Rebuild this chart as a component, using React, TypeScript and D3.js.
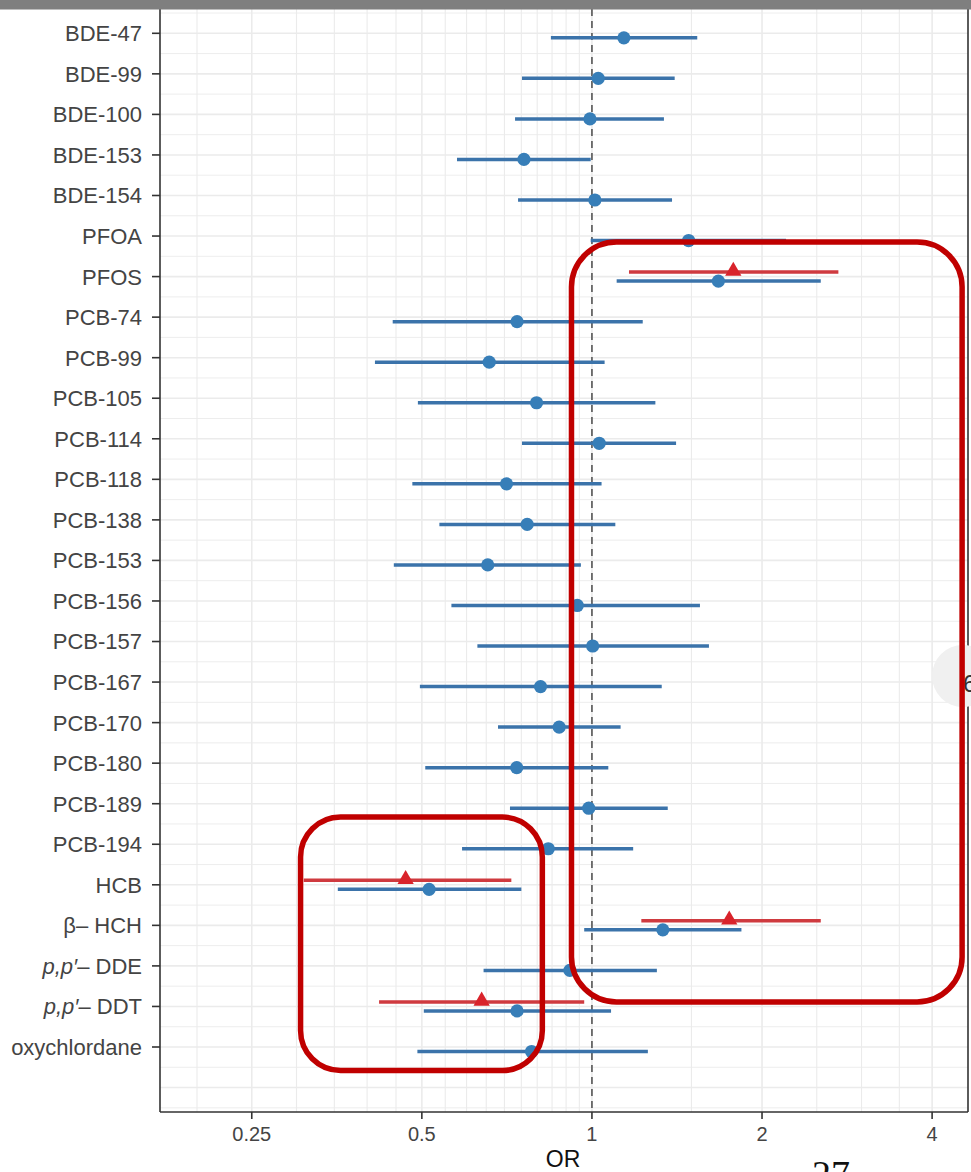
import React from "react";
import * as d3 from "d3";

// ---------- data ----------
const labels = [
  "BDE-47", "BDE-99", "BDE-100", "BDE-153", "BDE-154", "PFOA", "PFOS",
  "PCB-74", "PCB-99", "PCB-105", "PCB-114", "PCB-118", "PCB-138", "PCB-153",
  "PCB-156", "PCB-157", "PCB-167", "PCB-170", "PCB-180", "PCB-189", "PCB-194",
  "HCB", "β-HCH", "p,p'-DDE", "p,p'-DDT", "oxychlordane",
];
const blueLo = [0.846, 0.752, 0.731, 0.577, 0.740, 0.995, 1.106, 0.444, 0.413, 0.492, 0.752, 0.481, 0.537, 0.446, 0.564, 0.627, 0.496, 0.682, 0.507, 0.716, 0.589, 0.355, 0.969, 0.643, 0.504, 0.491];
const blueEst = [1.139, 1.026, 0.992, 0.758, 1.012, 1.483, 1.674, 0.737, 0.658, 0.798, 1.030, 0.706, 0.768, 0.654, 0.942, 1.003, 0.811, 0.875, 0.736, 0.987, 0.837, 0.515, 1.335, 0.914, 0.737, 0.782];
const blueHi = [1.536, 1.401, 1.341, 0.995, 1.386, 2.206, 2.541, 1.230, 1.053, 1.295, 1.409, 1.040, 1.100, 0.956, 1.553, 1.611, 1.329, 1.124, 1.069, 1.362, 1.183, 0.750, 1.839, 1.303, 1.081, 1.256];

const redLabels = ["PFOS", "HCB", "β-HCH", "p,p'-DDT"];
const redLo = [1.163, 0.309, 1.223, 0.420];
const redEst = [1.779, 0.468, 1.750, 0.638];
const redHi = [2.730, 0.720, 2.541, 0.969];

const xTicks = [0.25, 0.5, 1, 2, 4];
const xTickLabels = ["0.25", "0.5", "1", "2", "4"];
const xGrid = [0.2, 0.25, 0.3, 0.35, 0.4, 0.45, 0.5, 0.55, 0.6, 0.65, 0.7, 0.75, 0.8, 0.85, 0.9, 0.95, 1, 1.5, 2, 2.5, 3, 3.5, 4];

// annotation boxes (data coordinates: OR range, category range with step offsets)
const boxes = [
  { x0: 0.92, x1: 4.52, yFrom: "PFOS", yFromOff: -0.85, yTo: "p,p'-DDT", yToOff: -0.11, r: 45 },
  { x0: 0.305, x1: 0.817, yFrom: "PCB-194", yFromOff: -0.67, yTo: "oxychlordane", yToOff: 0.58, r: 40 },
];

// ---------- layout ----------
const W = 971;
const H = 1172;
const P = { left: 160, right: 968, top: 9, bottom: 1112 };

const BLUE = "#377EB8";
const BLUE_LINE = "#3b73aa";
const RED = "#d9232b";
const RED_LINE = "#cf3a3f";
const GRID = "#ebebeb";
const TEXT = "#444444";
const FONT = "'Liberation Sans', Arial, Helvetica, sans-serif";

function renderLabel(l: string) {
  if (l.startsWith("p,p'")) {
    const rest = l.split("-")[1];
    return (
      <>
        <tspan fontStyle="italic">p,p′</tspan>
        <tspan>{"– " + rest}</tspan>
      </>
    );
  }
  if (l === "β-HCH") return <tspan>{"β– HCH"}</tspan>;
  return l;
}

export default function App() {
  const x = d3.scaleLog().base(2).domain([0.172, 4.63]).range([P.left, P.right]);
  const y = d3.scalePoint<string>().domain(labels).range([33.3, 1047]);
  const step = y.step();
  const dBlue = 4.5;
  const dRed = -4.5;

  const hGrid: { y: number; major: boolean }[] = [];
  for (let k = -1; k <= 2 * labels.length + 2; k++) {
    const yy = (y(labels[0]) as number) + (k * step) / 2;
    if (yy > P.top && yy < P.bottom) hGrid.push({ y: yy, major: k % 2 === 0 });
  }

  const tri = d3.symbol().type(d3.symbolTriangle).size(115)() as string;

  return (
    <svg
      width={W}
      height={H}
      style={{ position: "absolute", left: 0, top: 0, background: "#fff" }}
      fontFamily={FONT}
    >
      <rect x={0} y={0} width={W} height={H} fill="#fff" />
      <rect x={P.left} y={P.top} width={P.right - P.left} height={P.bottom - P.top} fill="#fff" />

      {/* gridlines */}
      {hGrid.map((g, i) => (
        <line key={"h" + i} x1={P.left} x2={P.right} y1={g.y} y2={g.y} stroke={GRID} strokeWidth={g.major ? 1.6 : 0.9} />
      ))}
      {xGrid.map((v, i) => (
        <line key={"v" + i} x1={x(v)} x2={x(v)} y1={P.top} y2={P.bottom} stroke={GRID} strokeWidth={xTicks.includes(v) ? 1.6 : 1.1} />
      ))}

      {/* reference line at OR = 1 */}
      <line x1={x(1)} x2={x(1)} y1={P.top} y2={P.bottom} stroke="#555" strokeWidth={1.6} strokeDasharray="7,5" />

      {/* blue intervals */}
      {labels.map((l, i) => {
        const yy = (y(l) as number) + dBlue;
        return (
          <g key={"b" + l}>
            <line x1={x(blueLo[i])} x2={x(blueHi[i])} y1={yy} y2={yy} stroke={BLUE_LINE} strokeWidth={3.5} />
            <circle cx={x(blueEst[i])} cy={yy} r={6.6} fill={BLUE} />
          </g>
        );
      })}

      {/* red intervals */}
      {redLabels.map((l, i) => {
        const yy = (y(l) as number) + dRed;
        return (
          <g key={"r" + l}>
            <line x1={x(redLo[i])} x2={x(redHi[i])} y1={yy} y2={yy} stroke={RED_LINE} strokeWidth={3.5} />
            <path d={tri} transform={`translate(${x(redEst[i])},${yy - 1})`} fill={RED} />
          </g>
        );
      })}

      {/* axes / border */}
      <line x1={P.left} x2={P.left} y1={P.top} y2={P.bottom} stroke="#333" strokeWidth={1.6} />
      <line x1={P.left} x2={P.right} y1={P.bottom} y2={P.bottom} stroke="#333" strokeWidth={1.6} />
      <line x1={P.right} x2={P.right} y1={P.top} y2={P.bottom} stroke="#333" strokeWidth={1.6} />

      {/* y ticks + labels */}
      {labels.map((l) => {
        const yy = y(l) as number;
        return (
          <g key={"yt" + l}>
            <line x1={P.left - 8} x2={P.left} y1={yy} y2={yy} stroke="#333" strokeWidth={1.6} />
            <text x={142} y={yy} dy="0.36em" textAnchor="end" fontSize={22} fill={TEXT}>
              {renderLabel(l)}
            </text>
          </g>
        );
      })}

      {/* x ticks + labels */}
      {xTicks.map((v, i) => (
        <g key={"xt" + v}>
          <line x1={x(v)} x2={x(v)} y1={P.bottom} y2={P.bottom + 7} stroke="#333" strokeWidth={1.6} />
          <text x={x(v)} y={1141} textAnchor="middle" fontSize={20} fill={TEXT}>
            {xTickLabels[i]}
          </text>
        </g>
      ))}
      <text x={(P.left + P.right) / 2 - 1} y={1167} textAnchor="middle" fontSize={23} fill="#111">
        OR
      </text>

      {/* top grey bar */}
      <rect x={0} y={0} width={W} height={9.5} fill="#7f7f7f" />

      {/* overlay widget circle */}
      <circle cx={963} cy={676} r={31} fill="#f0f0f0" />
      <text x={963} y={692} fontSize={24} fill="#333">6</text>

      {/* red annotation boxes */}
      {boxes.map((b, i) => {
        const x0 = x(b.x0);
        const x1 = x(b.x1);
        const y0 = (y(b.yFrom) as number) + b.yFromOff * step;
        const y1 = (y(b.yTo) as number) + b.yToOff * step;
        return (
          <rect key={"box" + i} x={x0} y={y0} width={x1 - x0} height={y1 - y0} rx={b.r} ry={b.r} fill="none" stroke="#c00000" strokeWidth={5.5} />
        );
      })}

      {/* page number (cut off at the page edge, as in the reference) */}
      <text x={812} y={1187} fontSize={38} fontFamily="'Liberation Serif', 'Times New Roman', serif" fill="#111">
        27
      </text>
    </svg>
  );
}
